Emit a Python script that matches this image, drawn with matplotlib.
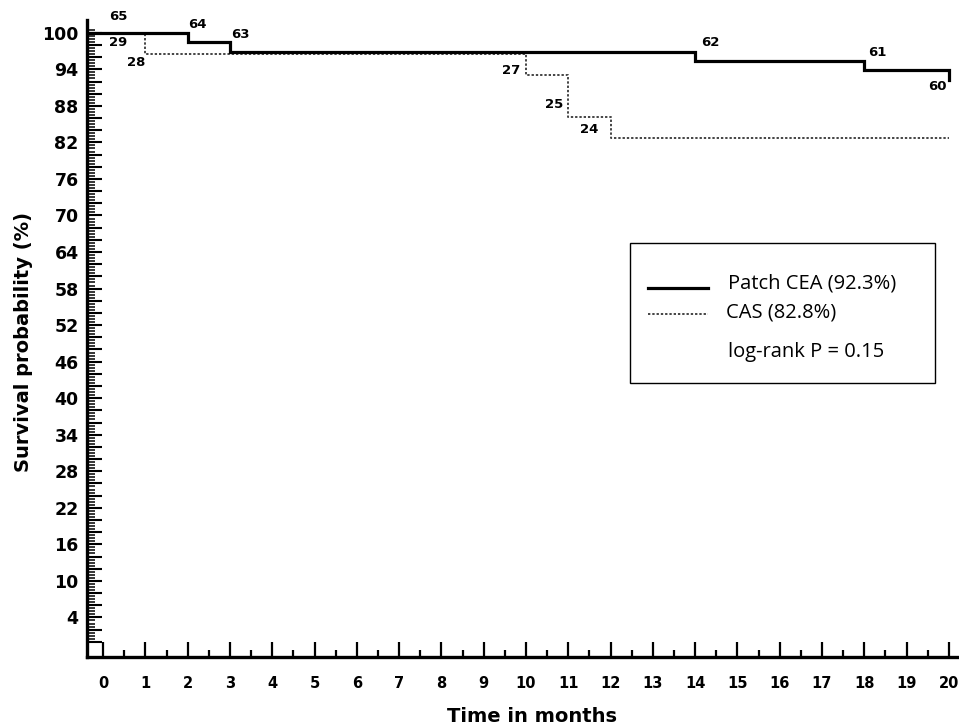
import numpy as np
import matplotlib
matplotlib.use("Agg")
import matplotlib.pyplot as plt
from matplotlib.patches import Rectangle
from matplotlib.lines import Line2D

# Kaplan-Meier step data
cea_times = [0, 2, 3, 14, 18, 20]
cea_surv = [100, 98.46, 96.92, 95.38, 93.85, 92.31]
cas_times = [0, 1, 10, 11, 12, 20]
cas_surv = [100, 96.55, 93.10, 86.21, 82.76, 82.76]

# numbers at risk written next to the curves
risk_x = [0.36, 2.22, 3.24, 14.37, 18.3, 19.74, 0.35, 0.78, 9.65, 10.66, 11.49]
risk_y = [102.6, 101.3, 99.8, 98.4, 96.7, 91.1, 98.4, 95.2, 93.8, 88.2, 84.1]
risk_txt = ["65", "64", "63", "62", "61", "60", "29", "28", "27", "25", "24"]

legend_labels = ["Patch CEA (92.3%)", "CAS (82.8%)"]
pvalue_text = "log-rank P = 0.15"

ytick_labels = list(range(4, 101, 6))
xtick_vals = list(range(0, 21))

plt.rcParams["font.family"] = ["DejaVu Sans"]

fig = plt.figure(figsize=(9.59, 7.25), dpi=100)
ax = fig.add_axes([87 / 959, 68 / 725, 872 / 959, 637 / 725])
xmin, xmax = -0.38, 20.24
ax.set_xlim(xmin, xmax)
ax.set_ylim(-2.5, 102.1)

# solid line starts at the y axis
ax.step([xmin] + cea_times, [cea_surv[0]] + cea_surv, where="post",
        color="black", lw=2.3, solid_joinstyle="miter", zorder=3)
ax.step(cas_times, cas_surv, where="post", color="#444444", lw=1.4,
        linestyle=(0, (1.2, 1.0)), zorder=2)

for x, y, t in zip(risk_x, risk_y, risk_txt):
    ax.text(x, y, t, fontsize=9.5, fontweight="bold", ha="center",
            va="center", clip_on=False)

for s in ["top", "right"]:
    ax.spines[s].set_visible(False)
for s in ["left", "bottom"]:
    ax.spines[s].set_linewidth(2.4)

ax.set_xticks(xtick_vals)
ax.set_xticks(np.arange(0.5, 20.1, 1.0), minor=True)
ax.set_xticklabels([str(v) for v in xtick_vals])
ax.set_yticks(np.arange(0, 101, 2))
ax.set_yticks(np.arange(0, 101, 0.5), minor=True)
ax.set_yticklabels([str(v) if v in ytick_labels else "" for v in range(0, 101, 2)])

ax.tick_params(axis="x", which="major", direction="in", length=11, width=1.6,
               pad=14, labelsize=10.5)
ax.tick_params(axis="x", which="minor", direction="in", length=5, width=1.6)
ax.tick_params(axis="y", which="major", direction="in", length=11, width=1.5,
               pad=6, labelsize=12.5)
ax.tick_params(axis="y", which="minor", direction="in", length=6, width=1.1)
for lab in ax.get_xticklabels() + ax.get_yticklabels():
    lab.set_fontweight("bold")

ax.set_xlabel("Time in months", fontsize=14, fontweight="bold")
ax.xaxis.set_label_coords(0.51, -0.078)
ax.set_ylabel("Survival probability (%)", fontsize=14, fontweight="bold")
ax.yaxis.set_label_coords(-0.062, 0.495)

# legend box drawn by hand
tr = ax.transAxes
ax.add_patch(Rectangle((0.6227, 0.430), 0.35, 0.220, transform=tr,
                       fill=False, edgecolor="black", lw=1.0, clip_on=False))
ax.add_line(Line2D([0.643, 0.712], [0.579, 0.579], transform=tr,
                   color="black", lw=2.3))
ax.add_line(Line2D([0.643, 0.712], [0.538, 0.538], transform=tr,
                   color="#444444", lw=1.4, linestyle=(0, (1.2, 1.0))))
leg_font = ["Open Sans", "DejaVu Sans"]
ax.text(0.735, 0.5856, legend_labels[0], transform=tr, fontsize=14.5,
        va="center", family=leg_font)
ax.text(0.733, 0.5416, legend_labels[1], transform=tr, fontsize=14.5,
        va="center", family=leg_font)
ax.text(0.735, 0.4788, pvalue_text, transform=tr, fontsize=14.5,
        va="center", family=leg_font)

fig.savefig("out.png", dpi=100)
